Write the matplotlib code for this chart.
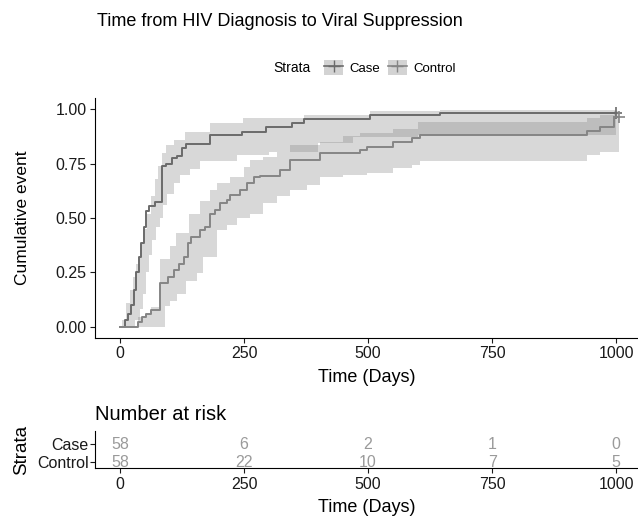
import matplotlib.pyplot as plt
import numpy as np
from matplotlib.lines import Line2D
from matplotlib.patches import Patch

plt.rcParams['font.family'] = ['Liberation Sans', 'DejaVu Sans']

# Case curve (cumulative event) with confidence band
case_t = [0, 10, 17, 23, 28, 33, 38, 43, 48, 53, 58, 70, 84, 92, 104, 114, 124, 134,
          181, 245, 294, 346, 370, 504, 645, 1000]
case_est = [0, .03, .06, .10, .17, .25, .32, .385, .46, .53, .555, .575, .74, .75, .775,
            .785, .82, .84, .882, .897, .917, .936, .954, .972, .985, .985]
case_up_t = [0, 5, 12, 20, 27, 33, 40, 47, 54, 62, 70, 77, 84, 92, 108, 131, 181, 247,
             370, 504, 645, 1000]
case_up = [0, .03, .108, .169, .23, .29, .38, .45, .52, .60, .68, .74, .80, .836,
           .86, .895, .935, .958, .975, .99, .995, .995]
case_lo_t = [0, 30, 40, 47, 53, 58, 64, 72, 80, 86, 94, 108, 121, 141, 161, 235, 300,
             400, 470, 600, 1000]
case_lo = [0, .03, .08, .15, .25, .33, .40, .46, .50, .56, .61, .66, .70, .725, .76,
           .79, .805, .845, .874, .88, .88]

# Control curve
ctrl_t = [0, 37, 45, 52, 62, 81, 97, 108, 118, 128, 138, 144, 161, 171, 181, 192, 202,
          215, 222, 242, 256, 270, 282, 323, 343, 403, 484, 497, 551, 588, 604, 941,
          967, 995, 1005]
ctrl_est = [0, .02, .046, .06, .075, .202, .23, .26, .29, .322, .384, .414, .445, .46,
            .52, .536, .568, .583, .606, .629, .66, .687, .693, .72, .767, .798, .813,
            .828, .851, .866, .882, .902, .92, .963, .963]
ctrl_up_t = [0, 37, 50, 62, 81, 100, 113, 140, 161, 181, 195, 222, 249, 262, 289, 316,
             343, 403, 450, 484, 551, 601, 941, 967, 995, 1005]
ctrl_up = [0, .045, .06, .09, .31, .37, .43, .52, .58, .63, .66, .69, .736, .767, .782,
           .805, .836, .85, .875, .89, .91, .943, .96, .975, .99, .99]
ctrl_lo_t = [0, 90, 100, 114, 134, 155, 168, 195, 215, 235, 262, 289, 316, 343, 376,
             403, 450, 497, 551, 588, 604, 941, 967, 1005]
ctrl_lo = [0, .095, .12, .15, .21, .245, .32, .445, .47, .50, .52, .568, .60, .63, .65,
           .69, .70, .706, .73, .745, .76, .79, .805, .805]

# Number at risk table
risk_times = [0, 250, 500, 750, 1000]
risk_case = [58, 6, 2, 1, 0]
risk_ctrl = [58, 22, 10, 7, 5]

line_case = '#6b6b6b'
line_ctrl = '#858585'
txt = '#1a1a1a'

fig = plt.figure(figsize=(6.38, 5.18), dpi=100)
ax = fig.add_axes([0.1492, 0.3483, 0.8508, 0.4617])

# confidence bands as step polygons
for up_t, up, lo_t, lo in [(case_up_t, case_up, case_lo_t, case_lo),
                           (ctrl_up_t, ctrl_up, ctrl_lo_t, ctrl_lo)]:
    grid = np.unique(np.concatenate([up_t, lo_t]))
    u = np.array([up[np.searchsorted(up_t, g, side='right') - 1] for g in grid])
    l = np.array([lo[np.searchsorted(lo_t, g, side='right') - 1] for g in grid])
    ax.fill_between(grid, l, u, step='post', color='gray', alpha=0.3, linewidth=0)

ax.step(case_t, case_est, where='post', color=line_case, lw=1.4)
ax.step(ctrl_t, ctrl_est, where='post', color=line_ctrl, lw=1.4)
ax.plot(case_t[-1], case_est[-1], marker='+', ms=9, color=line_case, mew=1.2)
ax.plot(ctrl_t[-1], ctrl_est[-1], marker='+', ms=9, color=line_ctrl, mew=1.2)

ax.set_xlim(-50, 1044)
ax.set_ylim(-0.05, 1.05)
ax.set_xticks(risk_times)
ax.set_yticks([0, 0.25, 0.5, 0.75, 1.0])
ax.set_yticklabels(['0.00', '0.25', '0.50', '0.75', '1.00'])
ax.spines['top'].set_visible(False)
ax.spines['right'].set_visible(False)
ax.tick_params(labelsize=11.5, colors=txt, length=3.5, pad=2.5)
ax.set_xlabel('Time (Days)', fontsize=13, labelpad=6)
ax.set_ylabel('Cumulative event', fontsize=12.5, labelpad=8)
ax.yaxis.set_label_coords(-0.12, 0.5)

fig.text(0.152, 0.958, 'Time from HIV Diagnosis to Viral Suppression', fontsize=13,
         va='center', ha='left')

# legend
handles = [(Patch(facecolor='#d3d3d3', edgecolor='none'),
            Line2D([], [], color=line_case, marker='+', ms=9, lw=1.2)),
           (Patch(facecolor='#d3d3d3', edgecolor='none'),
            Line2D([], [], color=line_ctrl, marker='+', ms=9, lw=1.2))]
fig.text(0.429, 0.869, 'Strata', fontsize=10, va='center', ha='left')
fig.legend(handles, ['Case', 'Control'], loc='center left', bbox_to_anchor=(0.498, 0.869),
           ncol=2, frameon=False, fontsize=9.5, handlelength=1.4, handleheight=1.4,
           handletextpad=0.5, columnspacing=0.6, borderpad=0)

# risk table
rax = fig.add_axes([0.1492, 0.0959, 0.8508, 0.0712])
for x, n in zip(risk_times, risk_case):
    rax.text(x, 2, str(n), ha='center', va='center', color='#9a9a9a', fontsize=11.5)
for x, n in zip(risk_times, risk_ctrl):
    rax.text(x, 1, str(n), ha='center', va='center', color='#9a9a9a', fontsize=11.5)
rax.set_xlim(-50, 1044)
rax.set_ylim(0.65, 2.7)
rax.set_xticks(risk_times)
rax.set_yticks([2, 1])
rax.set_yticklabels(['Case', 'Control'])
rax.spines['top'].set_visible(False)
rax.spines['right'].set_visible(False)
rax.tick_params(labelsize=11.5, colors=txt, length=3.5, pad=2.5)
rax.tick_params(axis='y', pad=1)
rax.set_xlabel('Time (Days)', fontsize=13, labelpad=5)
rax.set_ylabel('Strata', fontsize=13.5, labelpad=2)
rax.yaxis.set_label_coords(-0.12, 0.5)
rax.set_title('Number at risk', fontsize=14.5, loc='left', pad=8)

fig.savefig('out.png', dpi=100)
